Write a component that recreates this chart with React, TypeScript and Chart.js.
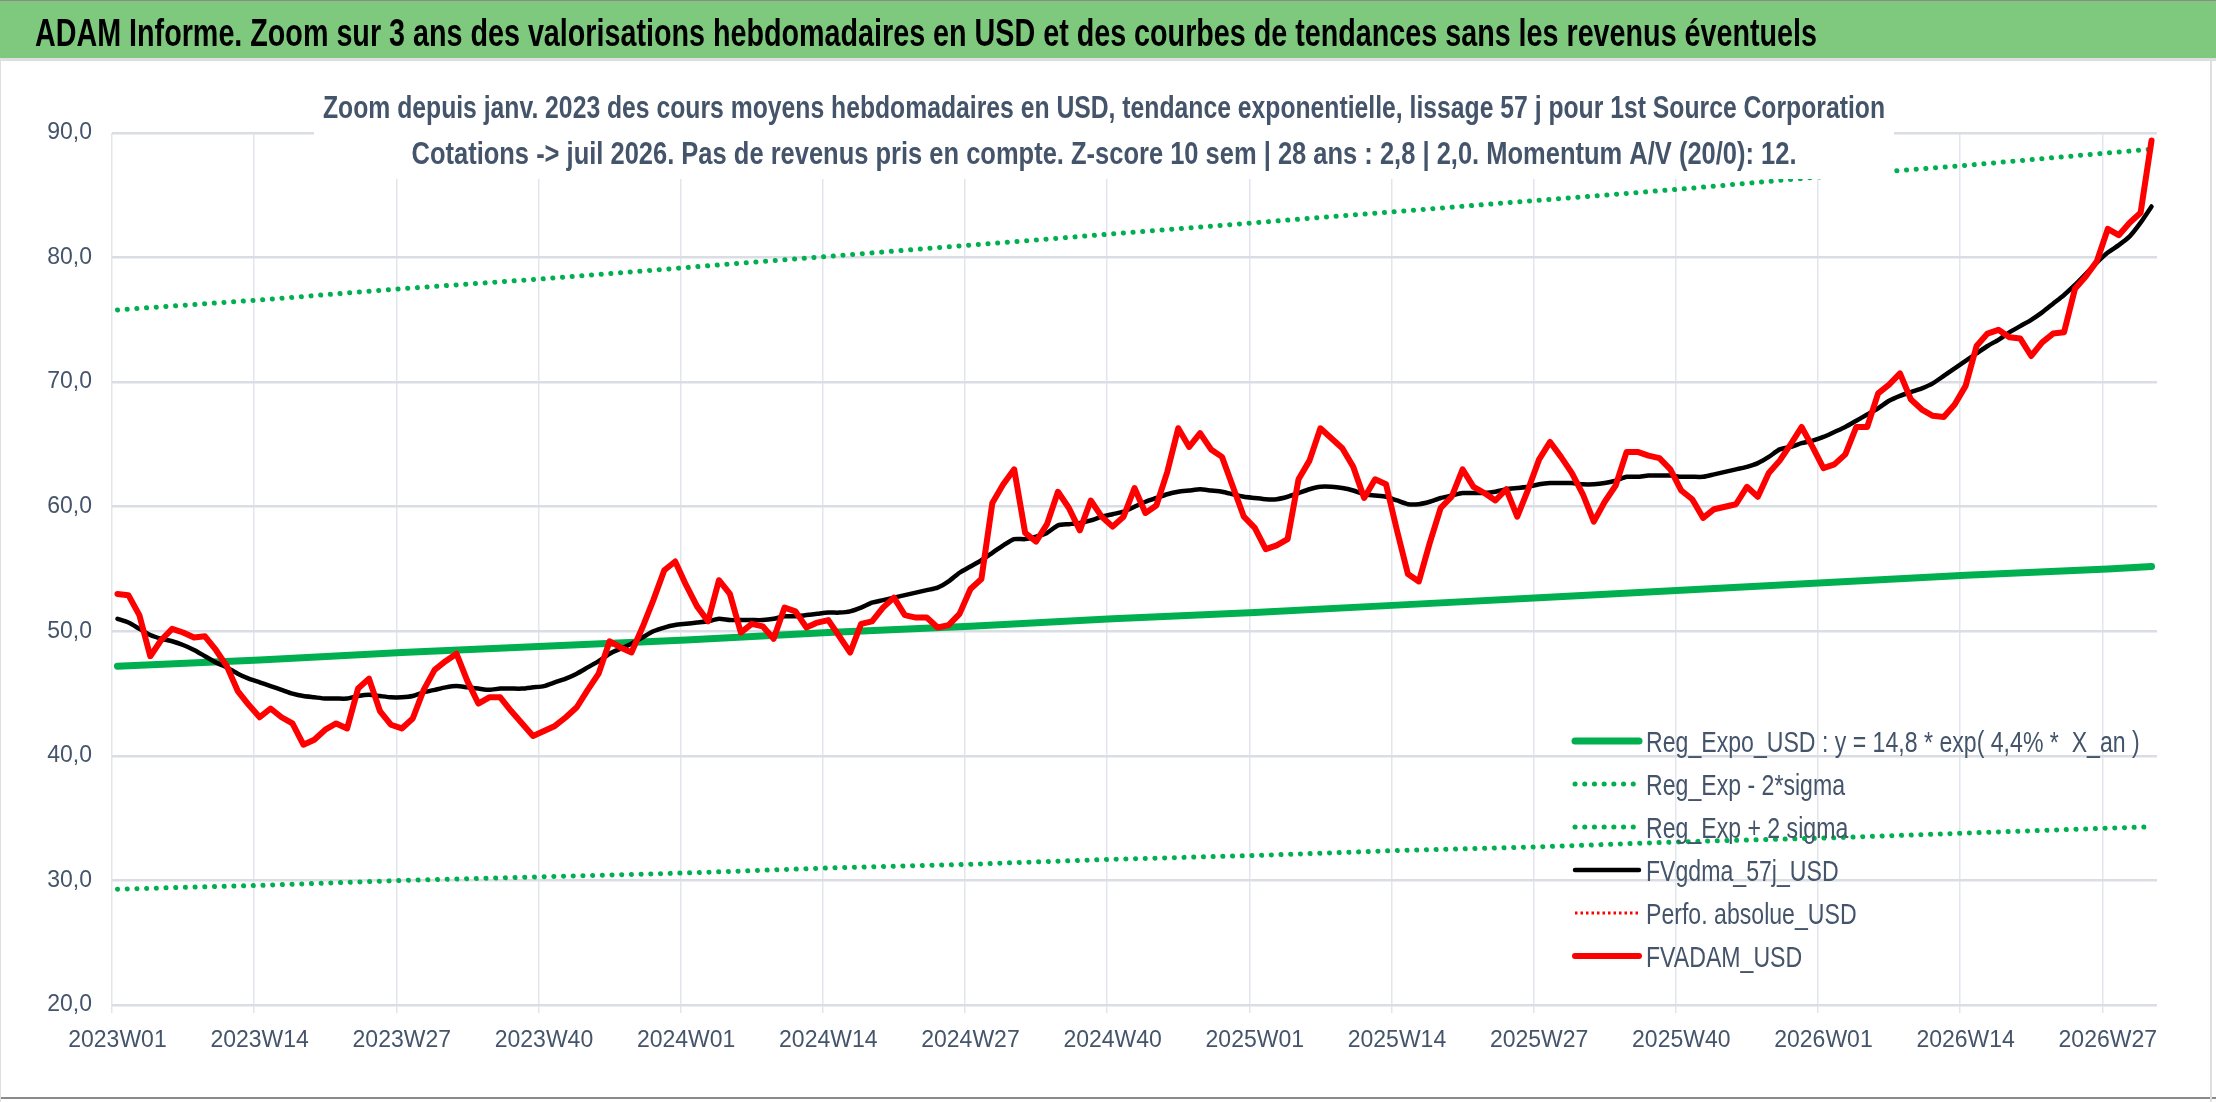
import { useEffect, useRef } from "react"
import { Chart, registerables, type ChartConfiguration, type Plugin } from "chart.js"

Chart.register(...registerables)

const HEADER =
  "ADAM Informe. Zoom sur 3 ans des valorisations hebdomadaires en USD et des courbes de tendances sans les revenus éventuels"
const SUBTITLE = [
  "Zoom depuis janv. 2023 des cours moyens hebdomadaires en USD, tendance exponentielle, lissage 57 j pour 1st Source Corporation",
  "Cotations -> juil 2026. Pas de revenus pris en compte. Z-score 10 sem | 28 ans : 2,8 | 2,0. Momentum A/V (20/0): 12.",
]

// weekly categories 2023W01 .. 2026W31
const YEARS = [2023, 2024, 2025, 2026]
const WEEKS_IN_YEAR = [52, 52, 52, 31]
const WEEKS = YEARS.flatMap((y, i) =>
  Array.from({ length: WEEKS_IN_YEAR[i] }, (_, w) => `${y}W${String(w + 1).padStart(2, "0")}`)
)
const LABEL_STEP = 13

// FVADAM_USD, weekly average price
const FVADAM_USD = [
  53.0, 52.9, 51.3, 48.0, 49.3, 50.2, 49.9, 49.5, 49.6, 48.5,
  47.2, 45.2, 44.1, 43.1, 43.8, 43.1, 42.6, 40.9, 41.3, 42.1,
  42.6, 42.2, 45.4, 46.2, 43.6, 42.5, 42.2, 43.0, 45.3, 46.9,
  47.6, 48.2, 46.0, 44.2, 44.7, 44.7, 43.6, 42.6, 41.6, 42.0,
  42.4, 43.1, 43.9, 45.3, 46.6, 49.2, 48.7, 48.3, 50.3, 52.5,
  54.9, 55.6, 53.7, 52.0, 50.8, 54.1, 53.0, 49.9, 50.6, 50.4,
  49.4, 51.9, 51.6, 50.3, 50.7, 50.9, 49.6, 48.3, 50.6, 50.8,
  51.9, 52.7, 51.3, 51.1, 51.1, 50.3, 50.5, 51.4, 53.4, 54.2,
  60.3, 61.8, 63.0, 57.9, 57.2, 58.6, 61.2, 59.9, 58.1, 60.5,
  59.2, 58.4, 59.2, 61.5, 59.5, 60.1, 62.8, 66.3, 64.8, 65.9,
  64.6, 64.0, 61.6, 59.2, 58.3, 56.6, 56.9, 57.4, 62.2, 63.7,
  66.3, 65.5, 64.7, 63.2, 60.7, 62.2, 61.8, 58.1, 54.6, 54.0,
  57.1, 59.9, 60.8, 63.0, 61.6, 61.1, 60.5, 61.4, 59.2, 61.4,
  63.8, 65.2, 64.0, 62.7, 61.0, 58.8, 60.4, 61.7, 64.4, 64.4,
  64.1, 63.9, 63.0, 61.3, 60.6, 59.1, 59.8, 60.0, 60.2, 61.6,
  60.8, 62.7, 63.7, 65.0, 66.4, 64.8, 63.1, 63.4, 64.2, 66.4,
  66.4, 69.1, 69.8, 70.7, 68.6, 67.8, 67.3, 67.2, 68.2, 69.7,
  72.9, 73.9, 74.2, 73.6, 73.5, 72.1, 73.2, 73.9, 74.0, 77.5,
  78.5, 79.7, 82.3, 81.8, 82.8, 83.6, 89.4,
]

// FVgdma_57j_USD, smoothed price
const FVGDMA_57J_USD = [
  51.0, 50.7, 50.2, 49.7, 49.4, 49.2, 48.9, 48.5, 48.0, 47.5,
  47.1, 46.6, 46.2, 45.9, 45.6, 45.3, 45.0, 44.8, 44.7, 44.6,
  44.6, 44.6, 44.8, 44.9, 44.8, 44.7, 44.7, 44.8, 45.1, 45.3,
  45.5, 45.6, 45.5, 45.4, 45.3, 45.4, 45.4, 45.4, 45.5, 45.6,
  45.9, 46.2, 46.6, 47.1, 47.6, 48.2, 48.6, 49.0, 49.5, 50.0,
  50.3, 50.5, 50.6, 50.7, 50.8, 51.0, 50.9, 50.9, 50.9, 50.9,
  51.0, 51.2, 51.2, 51.3, 51.4, 51.5, 51.5, 51.6, 51.9, 52.3,
  52.5, 52.7, 52.9, 53.1, 53.3, 53.5, 54.0, 54.7, 55.2, 55.7,
  56.3, 56.9, 57.4, 57.4, 57.6, 57.9, 58.5, 58.6, 58.7, 58.9,
  59.2, 59.4, 59.6, 60.0, 60.4, 60.7, 61.0, 61.2, 61.3, 61.4,
  61.3, 61.2, 61.0, 60.8, 60.7, 60.6, 60.6, 60.8, 61.1, 61.4,
  61.6, 61.6, 61.5, 61.3, 61.0, 60.9, 60.8, 60.5, 60.2, 60.2,
  60.4, 60.7, 60.9, 61.1, 61.1, 61.1, 61.2, 61.4, 61.5, 61.6,
  61.8, 61.9, 61.9, 61.9, 61.8, 61.8, 61.9, 62.1, 62.4, 62.4,
  62.5, 62.5, 62.5, 62.4, 62.4, 62.4, 62.6, 62.8, 63.0, 63.2,
  63.5, 64.0, 64.6, 64.8, 65.1, 65.3, 65.6, 66.0, 66.4, 66.9,
  67.4, 67.9, 68.5, 68.9, 69.2, 69.5, 69.9, 70.5, 71.1, 71.7,
  72.3, 72.9, 73.4, 74.0, 74.5, 75.0, 75.6, 76.3, 77.0, 77.8,
  78.7, 79.6, 80.4, 81.0, 81.7, 82.8, 84.1,
]

// trend curves, read at each labelled week and at the last week
const TREND_WEEKS = [
  "2023W01", "2023W14", "2023W27", "2023W40", "2024W01", "2024W14", "2024W27", "2024W40",
  "2025W01", "2025W14", "2025W27", "2025W40", "2026W01", "2026W14", "2026W27", "2026W31",
]
const REG_EXPO = [47.2, 47.7, 48.3, 48.8, 49.3, 49.9, 50.4, 51.0, 51.5, 52.1, 52.7, 53.3, 53.9, 54.5, 55.0, 55.2]
const REG_MINUS_2SIGMA = [29.3, 29.6, 30.0, 30.3, 30.6, 31.0, 31.3, 31.7, 32.0, 32.4, 32.7, 33.1, 33.4, 33.8, 34.2, 34.3]
const REG_PLUS_2SIGMA = [75.8, 76.6, 77.5, 78.3, 79.2, 80.1, 81.0, 81.9, 82.8, 83.7, 84.6, 85.5, 86.5, 87.4, 88.4, 88.7]

const Y_MIN = 20
const Y_MAX = 90
const Y_STEP = 10

const GREEN = "#00b050"
const RED = "#ff0000"
const TEXT = "#44546a"
const GRID = "#dadde4"
const FONT = "'Liberation Sans', Arial, sans-serif"

const trend = (values: number[]) => TREND_WEEKS.map((w, i) => ({ x: w, y: values[i] }))

// header band, boxed title and in-plot legend (Excel style)
const decor: Plugin<"line"> = {
  id: "decor",
  beforeDraw(chart) {
    const { ctx, width, height } = chart
    ctx.save()
    ctx.fillStyle = "#ffffff"
    ctx.fillRect(0, 0, width, height)
    ctx.fillStyle = "#7fc97f"
    ctx.fillRect(0, 0, width, 58)
    ctx.fillStyle = "#8a8a8a"
    ctx.fillRect(0, 0, width, 1)
    ctx.fillRect(0, height - 5, width, 2)
    ctx.fillStyle = "#dedede"
    ctx.fillRect(0, 58, width, 3)
    ctx.fillRect(0, 58, 1, height)
    ctx.fillRect(width - 6, 58, 2, height)
    ctx.fillStyle = "#000000"
    ctx.font = `bold 38px ${FONT}`
    ctx.textAlign = "left"
    ctx.textBaseline = "alphabetic"
    ctx.fillText(HEADER, 35, 46, 1782)
    ctx.restore()
  },
  afterDatasetsDraw(chart) {
    const { ctx } = chart
    ctx.save()
    // title with white box
    const cx = 1104
    const maxW = [1562, 1385]
    ctx.font = `bold 31px ${FONT}`
    const w0 = Math.min(ctx.measureText(SUBTITLE[0]).width, maxW[0])
    ctx.fillStyle = "#ffffff"
    ctx.fillRect(cx - w0 / 2 - 9, 62, w0 + 18, 117)
    ctx.fillStyle = TEXT
    ctx.textAlign = "center"
    ctx.textBaseline = "alphabetic"
    ctx.fillText(SUBTITLE[0], cx, 118, maxW[0])
    ctx.fillText(SUBTITLE[1], cx, 164, maxW[1])

    // legend
    ctx.font = `30px ${FONT}`
    ctx.textAlign = "left"
    const x0 = 1575
    const x1 = 1639
    chart.data.datasets.forEach((ds: any, i: number) => {
      const base = 752 + i * 43
      const ym = base - 11
      ctx.save()
      ctx.strokeStyle = ds.borderColor
      ctx.lineWidth = ds.borderWidth
      ctx.lineCap = ds.borderCapStyle || "round"
      ctx.setLineDash(ds.borderDash || [])
      ctx.beginPath()
      ctx.moveTo(x0, ym)
      ctx.lineTo(x1, ym)
      ctx.stroke()
      ctx.restore()
      ctx.fillStyle = TEXT
      const w = ctx.measureText(ds.label).width
      ctx.fillText(ds.label, x1 + 7, base, w * 0.77)
    })
    ctx.restore()
  },
}

export default function App() {
  const canvasRef = useRef<HTMLCanvasElement>(null)

  useEffect(() => {
    document.body.style.margin = "0"
    document.body.style.overflow = "hidden"
    if (!canvasRef.current) return

    const config: ChartConfiguration<"line"> = {
      type: "line",
      data: {
        labels: WEEKS,
        datasets: [
          {
            label: "Reg_Expo_USD : y = 14,8 * exp( 4,4% *  X_an )",
            data: trend(REG_EXPO) as any,
            borderColor: GREEN,
            borderWidth: 7,
            borderCapStyle: "round",
            order: 5,
          },
          {
            label: "Reg_Exp - 2*sigma",
            data: trend(REG_MINUS_2SIGMA) as any,
            borderColor: GREEN,
            borderWidth: 5,
            borderDash: [0.1, 9.6],
            borderCapStyle: "round",
            order: 4,
          },
          {
            label: "Reg_Exp + 2 sigma",
            data: trend(REG_PLUS_2SIGMA) as any,
            borderColor: GREEN,
            borderWidth: 5,
            borderDash: [0.1, 9.6],
            borderCapStyle: "round",
            order: 3,
          },
          {
            label: "FVgdma_57j_USD",
            data: FVGDMA_57J_USD,
            borderColor: "#000000",
            borderWidth: 4.5,
            borderCapStyle: "round",
            tension: 0.2,
            order: 1,
          },
          {
            label: "Perfo. absolue_USD",
            data: [],
            borderColor: RED,
            borderWidth: 3,
            borderDash: [2.5, 3],
            borderCapStyle: "butt",
            order: 2,
          },
          {
            label: "FVADAM_USD",
            data: FVADAM_USD,
            borderColor: RED,
            borderWidth: 6,
            borderCapStyle: "round",
            order: 0,
          },
        ],
      },
      options: {
        animation: false,
        responsive: true,
        maintainAspectRatio: false,
        layout: { padding: { top: 133, right: 59, left: 0, bottom: 0 } },
        elements: {
          point: { radius: 0, hoverRadius: 0 },
          line: { borderJoinStyle: "round", tension: 0, fill: false },
        },
        plugins: {
          legend: { display: false },
          tooltip: { enabled: false },
          title: { display: false },
        },
        scales: {
          x: {
            type: "category",
            offset: true,
            border: { display: false },
            grid: {
              offset: true,
              drawTicks: true,
              tickLength: 8,
              lineWidth: 1.5,
              color: (c: any) => (c.index % LABEL_STEP === 0 ? "#e2e5eb" : "rgba(0,0,0,0)"),
            },
            ticks: {
              autoSkip: false,
              maxRotation: 0,
              minRotation: 0,
              padding: 14,
              color: TEXT,
              font: { family: FONT, size: 23 },
              callback: (_v: any, i: number) => (i % LABEL_STEP === 0 ? WEEKS[i] : ""),
            },
            afterFit: (s: any) => {
              s.height = 97
            },
          },
          y: {
            min: Y_MIN,
            max: Y_MAX,
            border: { display: false },
            grid: { color: GRID, lineWidth: 2.5, drawTicks: false },
            ticks: {
              stepSize: Y_STEP,
              padding: 20,
              color: TEXT,
              font: { family: FONT, size: 23 },
              callback: (v: any) => Number(v).toFixed(1).replace(".", ","),
            },
            afterFit: (s: any) => {
              s.width = 112
            },
          },
        },
      },
      plugins: [decor],
    }

    const chart = new Chart(canvasRef.current, config)
    return () => chart.destroy()
  }, [])

  return (
    <div style={{ width: 2216, height: 1102, position: "relative" }}>
      <canvas ref={canvasRef} />
    </div>
  )
}
